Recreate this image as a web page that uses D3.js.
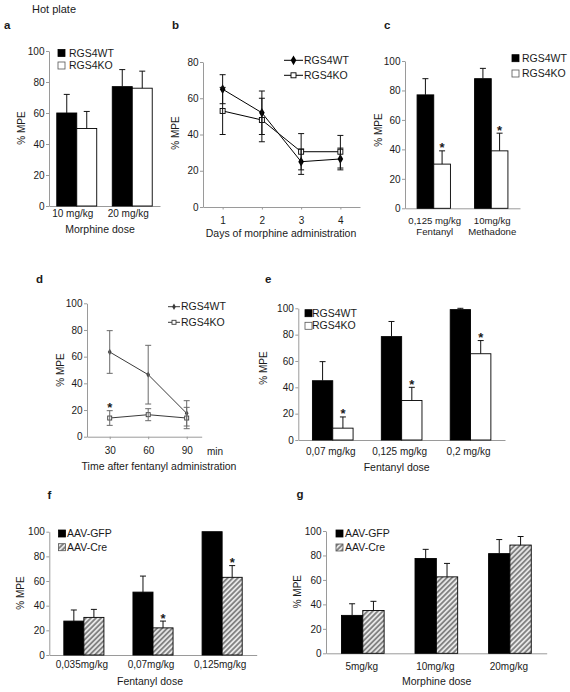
<!DOCTYPE html>
<html><head><meta charset="utf-8">
<script src="https://cdn.jsdelivr.net/npm/d3@7"></script>
<style>
body{margin:0;background:#fff}
svg{display:block}
</style>
</head><body>
<svg id="chart" width="570" height="692"></svg>
<script>
// ---------------- DATA ----------------
// Panel a
const aCategories = ["10 mg/kg", "20 mg/kg"];
const aWT = [60, 77], aWTErr = [12, 11];
const aKO = [50, 76], aKOErr = [11, 11];
// Panel b
const bDays = [1, 2, 3, 4];
const bWT = [65, 52, 25, 26.5], bWTErr = [8, 12, 7, 6];
const bKO = [53, 48, 30.5, 30.5], bKOErr = [13, 12, 10, 9];
// Panel c
const cCategories = [["0,125 mg/kg", "Fentanyl"], ["10mg/kg", "Methadone"]];
const cWT = [77, 88], cWTErr = [11, 7];
const cKO = [30, 39], cKOErr = [9, 12];
const cStars = [true, true];
// Panel d
const dTimes = [30, 60, 90];
const dWT = [63.5, 46.5, 17.5], dWTErr = [16, 22, 9.5];
const dKO = [14, 16.5, 14], dKOErr = [5.5, 4.5, 8];
const dStars = [true, false, false];
// Panel e
const eCategories = ["0,07 mg/kg", "0,125  mg/kg", "0,2 mg/kg"];
const eWT = [45, 78.5, 99], eWTErr = [14.5, 11.5, 1];
const eKO = [9, 30, 65.5], eKOErr = [8.5, 10, 10];
const eStars = [true, true, true];
// Panel f
const fCategories = ["0,035mg/kg", "0,07mg/kg", "0,125mg/kg"];
const fGFP = [27.5, 51, 100], fGFPErr = [9, 13, 0];
const fCre = [30.5, 22, 63], fCreErr = [6.5, 5.5, 9.5];
const fStars = [false, true, true];
// Panel g
const gCategories = ["5mg/kg", "10mg/kg", "20mg/kg"];
const gGFP = [31, 77.5, 81.5], gGFPErr = [9.5, 7.5, 11.5];
const gCre = [35, 62.5, 88.5], gCreErr = [7.5, 11, 7];
const yTicks100 = [0, 20, 40, 60, 80, 100];
const yTicks80 = [0, 20, 40, 60, 80];

// ---------------- DRAWING ----------------
const FONT = "'Liberation Sans', Arial, Helvetica, sans-serif";
const svg = d3.select("#chart");
const AX = "#9a9a9a";

const defs = svg.append("defs");
const pat = defs.append("pattern").attr("id", "hatch").attr("patternUnits", "userSpaceOnUse")
  .attr("width", 3.6).attr("height", 3.6).attr("patternTransform", "rotate(45)");
pat.append("rect").attr("width", 3.6).attr("height", 3.6).attr("fill", "#e6e6e6");
pat.append("line").attr("x1", 0.9).attr("y1", -1).attr("x2", 0.9).attr("y2", 5)
  .attr("stroke", "#7c7c7c").attr("stroke-width", 1.7);

function txt(x, y, s, size, opts = {}) {
  const t = svg.append("text").attr("x", x).attr("y", y).text(s)
    .attr("font-family", FONT).attr("font-size", size).attr("fill", opts.fill || "#1a1a1a")
    .attr("text-anchor", opts.anchor || "start");
  if (opts.bold) t.attr("font-weight", "bold");
  if (opts.rotate) t.attr("transform", `rotate(-90,${x},${y})`);
  return t;
}
function styleAxis(g) {
  g.select(".domain").attr("stroke", AX).attr("stroke-width", 1);
  g.selectAll(".tick line").attr("stroke", AX);
  g.selectAll("text").attr("font-family", FONT).attr("font-size", 10).attr("fill", "#1a1a1a");
}
function yAxis(y, x0, ticks) {
  const g = svg.append("g").attr("transform", `translate(${x0},0)`)
    .call(d3.axisLeft(y).tickValues(ticks).tickSize(3).tickSizeOuter(0).tickPadding(1.5));
  styleAxis(g);
}
function errBar(cx, y1, y2, color, cap) {
  svg.append("line").attr("x1", cx).attr("x2", cx).attr("y1", y1).attr("y2", y2)
    .attr("stroke", color).attr("stroke-width", 1);
  svg.append("line").attr("x1", cx - cap).attr("x2", cx + cap).attr("y1", y2).attr("y2", y2)
    .attr("stroke", color).attr("stroke-width", 1);
}
function star(cx, yTop) {
  txt(cx, yTop + 1.5, "*", 13, { anchor: "middle", bold: true });
}

function barPanel(o) {
  const x = d3.scaleBand().domain(d3.range(o.cats.length)).range([o.x0, o.x1]);
  const y = d3.scaleLinear().domain([0, 100]).range([o.yBot, o.yTop]);
  const bw = x.bandwidth() * o.frac / 2;
  const gx = svg.append("g").attr("transform", `translate(0,${o.yBot})`)
    .call(d3.axisBottom(x).tickSize(0).tickFormat(""));
  styleAxis(gx);
  yAxis(y, o.x0, yTicks100);
  const series = [
    { v: o.s1, e: o.e1, fill: "#000", off: -bw, stars: null },
    { v: o.s2, e: o.e2, fill: o.fill2, off: 0, stars: o.stars }
  ];
  series.forEach(s => {
    s.v.forEach((v, i) => {
      const bx = x(i) + x.bandwidth() / 2 + s.off;
      svg.append("rect").attr("x", bx).attr("y", y(v)).attr("width", bw)
        .attr("height", y(0) - y(v)).attr("fill", s.fill)
        .attr("stroke", "#000").attr("stroke-width", 0.9);
      const cx = bx + bw / 2;
      const top = y(v + s.e[i]);
      if (s.e[i] > 0) errBar(cx, y(v), top, "#111", 3);
      if (s.stars && s.stars[i]) star(cx, top);
    });
  });
  const fs = o.labSize || 10;
  o.cats.forEach((c, i) => {
    const lines = Array.isArray(c) ? c : [c];
    lines.forEach((l, k) => txt(x(i) + x.bandwidth() / 2 + o.labShift, o.yBot + o.labDy + k * 10.2, l, fs, { anchor: "middle" }));
  });
  if (o.title) txt(o.title.x, o.title.y, o.title.t, 10.5, { anchor: "middle" });
  txt(o.ylab.x, o.ylab.y, "% MPE", 10, { anchor: "middle", rotate: true });
  const L = o.legend;
  L.labels.forEach((lab, k) => {
    const ly = L.y + k * L.dy;
    svg.append("rect").attr("x", L.x).attr("y", ly - 7).attr("width", 7).attr("height", 7)
      .attr("fill", k === 0 ? "#000" : o.fill2).attr("stroke", k === 0 ? "#000" : "#555").attr("stroke-width", 0.8);
    txt(L.x + L.tx, ly, lab, 10.5);
  });
}

function marker(g, kind, cx, cy, sz, stroke) {
  if (kind === "diamond") {
    g.append("path").attr("d", d3.symbol(d3.symbolDiamond, sz * sz * 0.9)())
      .attr("transform", `translate(${cx},${cy})`).attr("fill", stroke);
  } else {
    g.append("rect").attr("x", cx - sz / 2).attr("y", cy - sz / 2).attr("width", sz).attr("height", sz)
      .attr("fill", "#fff").attr("stroke", stroke).attr("stroke-width", 0.9);
  }
}

function linePanel(o) {
  const x = d3.scaleLinear().domain(o.xDom).range([o.x0, o.x1]);
  const y = d3.scaleLinear().domain([0, o.yMax]).range([o.yBot, o.yTop]);
  const gx = svg.append("g").attr("transform", `translate(0,${o.yBot})`)
    .call(d3.axisBottom(x).tickValues(o.xs).tickSize(2.5).tickSizeOuter(0).tickPadding(o.xPad).tickFormat(d3.format("d")));
  styleAxis(gx);
  yAxis(y, o.x0, o.yTicks);
  const g = svg.append("g");
  o.series.forEach(s => {
    o.xs.forEach((xv, i) => {
      errBar(x(xv), y(s.v[i] - s.e[i]), y(s.v[i] + s.e[i]), o.errColor, 3);
      svg.append("line").attr("x1", x(xv) - 3).attr("x2", x(xv) + 3)
        .attr("y1", y(s.v[i] - s.e[i])).attr("y2", y(s.v[i] - s.e[i])).attr("stroke", o.errColor);
    });
  });
  o.series.forEach(s => {
    g.append("path").datum(s.v).attr("fill", "none").attr("stroke", o.lineColor).attr("stroke-width", 1)
      .attr("d", d3.line().x((d, i) => x(o.xs[i])).y(d => y(d)));
  });
  o.series.forEach(s => {
    s.v.forEach((v, i) => marker(g, s.kind, x(o.xs[i]), y(v), s.sz, o.lineColor));
  });
  if (o.stars) o.stars.forEach((st, i) => { if (st) star(x(o.xs[i]), y(o.series[1].v[i] + o.series[1].e[i])); });
  txt(o.title.x, o.title.y, o.title.t, 10.5, { anchor: "middle" });
  txt(o.ylab.x, o.ylab.y, "% MPE", 10, { anchor: "middle", rotate: true });
  const L = o.legend;
  o.series.forEach((s, k) => {
    const ly = L.y + k * L.dy;
    svg.append("line").attr("x1", L.x1).attr("x2", L.x2).attr("y1", ly).attr("y2", ly)
      .attr("stroke", o.lineColor).attr("stroke-width", 1);
    marker(svg, s.kind, (L.x1 + L.x2) / 2, ly, s.sz, o.lineColor);
    txt(L.x2 + 1, ly + 3.7, s.name, 10.5);
  });
}

// Header and panel letters
txt(32, 13.3, "Hot plate", 11);
[["a", 4, 29.3], ["b", 172, 29.3], ["c", 384, 29.3], ["d", 36, 282.7], ["e", 265, 282.7], ["f", 47.5, 499.3], ["g", 296.5, 497.5]]
  .forEach(([t, x, y]) => txt(x, y, t, 11.5, { bold: true }));

// Panel a
barPanel({ x0: 49, x1: 160, yTop: 51, yBot: 206, cats: aCategories, s1: aWT, e1: aWTErr, s2: aKO, e2: aKOErr,
  fill2: "#fff", stars: null, frac: 0.72, labShift: -4, labDy: 10.5,
  title: { x: 100, y: 232.5, t: "Morphine dose" }, ylab: { x: 24.5, y: 128 },
  legend: { x: 58, y: 56.5, dy: 12.5, tx: 11, labels: ["RGS4WT", "RGS4KO"] } });

// Panel b
linePanel({ x0: 203, x1: 360, xDom: [0.5, 4.5], yTop: 62, yBot: 207, yMax: 80, yTicks: yTicks80, xs: bDays, xPad: 7,
  series: [{ name: "RGS4WT", v: bWT, e: bWTErr, kind: "diamond", sz: 5.5 }, { name: "RGS4KO", v: bKO, e: bKOErr, kind: "square", sz: 5 }],
  lineColor: "#000", errColor: "#111",
  title: { x: 281, y: 236.5, t: "Days of morphine administration" }, ylab: { x: 178.5, y: 133 },
  legend: { x1: 284, x2: 303, y: 60.3, dy: 15 } });

// Panel c
barPanel({ x0: 405, x1: 520, yTop: 61, yBot: 208.3, cats: cCategories, s1: cWT, e1: cWTErr, s2: cKO, e2: cKOErr,
  fill2: "#fff", stars: cStars, frac: 0.58, labShift: 1, labDy: 16, labSize: 9.6,
  title: null, ylab: { x: 381.5, y: 130 },
  legend: { x: 512, y: 61.7, dy: 15.3, tx: 10, labels: ["RGS4WT", "RGS4KO"] } });

// Panel d
linePanel({ x0: 87, x1: 201.7, xDom: [12.3, 101.7], yTop: 303.3, yBot: 436.7, yMax: 100, yTicks: yTicks100, xs: dTimes, xPad: 8,
  series: [{ name: "RGS4WT", v: dWT, e: dWTErr, kind: "diamond", sz: 3.6 }, { name: "RGS4KO", v: dKO, e: dKOErr, kind: "square", sz: 4 }],
  lineColor: "#3a3a3a", errColor: "#6a6a6a", stars: dStars,
  title: { x: 159, y: 470, t: "Time after fentanyl administration" }, ylab: { x: 63.5, y: 370 },
  legend: { x1: 168, x2: 180, y: 306.7, dy: 15.6 } });
txt(215, 454.5, "min", 10, { anchor: "middle" });

// Panel e
barPanel({ x0: 298.3, x1: 505, yTop: 308.3, yBot: 440, cats: eCategories, s1: eWT, e1: eWTErr, s2: eKO, e2: eKOErr,
  fill2: "#fff", stars: eStars, frac: 0.59, labShift: -2, labDy: 14.5,
  title: { x: 396.7, y: 471, t: "Fentanyl dose" }, ylab: { x: 267, y: 368 },
  legend: { x: 305, y: 316.7, dy: 12.6, tx: 7, labels: ["RGS4WT", "RGS4KO"] } });

// Panel f
barPanel({ x0: 49.3, x1: 256.7, yTop: 531.7, yBot: 655, cats: fCategories, s1: fGFP, e1: fGFPErr, s2: fCre, e2: fCreErr,
  fill2: "url(#hatch)", stars: fStars, frac: 0.58, labShift: -2, labDy: 12.8,
  title: { x: 150, y: 684.5, t: "Fentanyl dose" }, ylab: { x: 24, y: 593 },
  legend: { x: 58.5, y: 537, dy: 13.7, tx: 8.5, labels: ["AAV-GFP", "AAV-Cre"] } });

// Panel g
barPanel({ x0: 326, x1: 546.7, yTop: 531, yBot: 653.3, cats: gCategories, s1: gGFP, e1: gGFPErr, s2: gCre, e2: gCreErr,
  fill2: "url(#hatch)", stars: null, frac: 0.58, labShift: -1, labDy: 16.8,
  title: { x: 436.7, y: 684.5, t: "Morphine dose" }, ylab: { x: 301, y: 591.7 },
  legend: { x: 336, y: 537, dy: 14, tx: 9, labels: ["AAV-GFP", "AAV-Cre"] } });
</script>
</body></html>
